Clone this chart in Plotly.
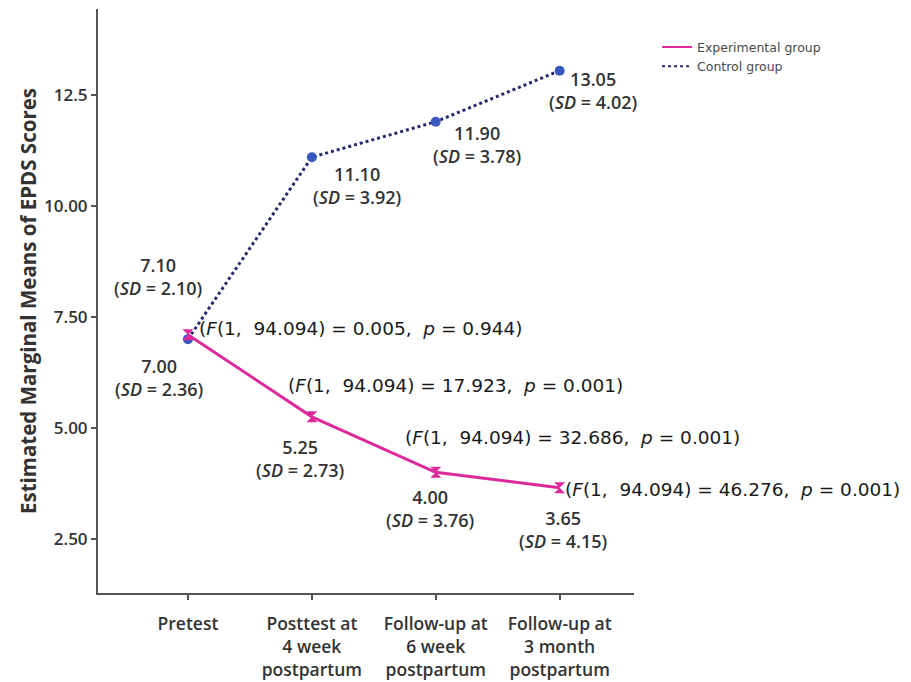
import plotly.graph_objects as go

categories = ["Pretest", "Posttest at<br>4 week<br>postpartum",
              "Follow-up at<br>6 week<br>postpartum", "Follow-up at<br>3 month<br>postpartum"]
experimental_mean = [7.10, 5.25, 4.00, 3.65]
experimental_sd = [2.10, 2.73, 3.76, 4.15]
control_mean = [7.00, 11.10, 11.90, 13.05]
control_sd = [2.36, 3.92, 3.78, 4.02]
f_values = ["0.005", "17.923", "32.686", "46.276"]
p_values = ["0.944", "0.001", "0.001", "0.001"]
df_text = "1,  94.094"
ytick_vals = [2.5, 5.0, 7.5, 10.0, 12.5]
ytick_text = ["2.50", "5.00", "7.50", "10.00", "12.5"]

EXP_COLOR = "#dc2a9c"
CTRL_LINE = "#262a6c"
CTRL_DOT = "#3a59c0"
LABEL_FONT = dict(family="Open Sans", size=18, color="#333333", weight=600)
STAT_FONT = dict(family="DejaVu Sans", size=18.5, color="#1a1a1a")

fig = go.Figure()
fig.add_trace(go.Scatter(x=categories, y=control_mean, mode="lines+markers",
                         line=dict(color=CTRL_LINE, width=3, dash="dot"),
                         marker=dict(color=CTRL_DOT, size=10), showlegend=False,
                         cliponaxis=False))
fig.add_trace(go.Scatter(x=categories, y=experimental_mean, mode="lines+markers",
                         line=dict(color=EXP_COLOR, width=3),
                         marker=dict(color=EXP_COLOR, size=11, symbol="hourglass"),
                         showlegend=False, cliponaxis=False))
# legend entries (lines only)
fig.add_trace(go.Scatter(x=[None], y=[None], mode="lines", name="Experimental group",
                         line=dict(color=EXP_COLOR, width=2)))
fig.add_trace(go.Scatter(x=[None], y=[None], mode="lines", name="Control group",
                         line=dict(color=CTRL_LINE, width=2, dash="dot")))

# label offsets in pixels (x, y)
ctrl_off = [(-29, -38), (45, -28), (41, -23), (33, -20)]
exp_off = [(-30, 58), (-12, -42), (-6, -36), (3, -42)]
stat_off = [(9, 6), (-26, 31), (-33, 35), (3, -2)]

for i, cat in enumerate(categories):
    fig.add_annotation(x=cat, y=control_mean[i], xref="x", yref="y",
                       text=f"{control_mean[i]:.2f}<br>(<i>SD</i> = {control_sd[i]:.2f})",
                       showarrow=False, xshift=ctrl_off[i][0], yshift=ctrl_off[i][1],
                       font=LABEL_FONT, align="center")
    fig.add_annotation(x=cat, y=experimental_mean[i], xref="x", yref="y",
                       text=f"{experimental_mean[i]:.2f}<br>(<i>SD</i> = {experimental_sd[i]:.2f})",
                       showarrow=False, xshift=exp_off[i][0], yshift=exp_off[i][1],
                       font=LABEL_FONT, align="center")
    fig.add_annotation(x=cat, y=experimental_mean[i], xref="x", yref="y",
                       text=f"(<i>F</i>({df_text}) = {f_values[i]},  <i>p</i> = {p_values[i]})",
                       showarrow=False, xanchor="left", xshift=stat_off[i][0],
                       yshift=stat_off[i][1], font=STAT_FONT)

fig.update_layout(
    width=911, height=682,
    margin=dict(l=90, r=285, t=1, b=97, autoexpand=False),
    paper_bgcolor="white", plot_bgcolor="white",
    legend=dict(x=1.043, y=0.96, xanchor="left", yanchor="top",
                font=dict(family="DejaVu Sans", size=12.5, color="#4a4a4a"),
                tracegroupgap=0, itemwidth=30, bgcolor="rgba(0,0,0,0)"),
)
fig.update_xaxes(range=[-0.726, 3.6], showgrid=False, zeroline=False, automargin=False,
                 showline=True, linecolor="#555555", linewidth=2,
                 ticks="outside", ticklen=5, tickcolor="#555555", tickwidth=2,
                 ticklabelstandoff=9,
                 tickfont=dict(family="Open Sans", size=17.5, color="#333333", weight=600))
fig.update_yaxes(range=[1.28, 14.44], showgrid=False, zeroline=False, automargin=False,
                 showline=True, linecolor="#555555", linewidth=2,
                 tickvals=ytick_vals, ticktext=ytick_text,
                 ticks="outside", ticklen=5, tickcolor="#555555", tickwidth=2,
                 tickfont=dict(family="Open Sans", size=17, color="#333333", weight=600),
                 title=dict(text="Estimated Marginal Means of EPDS Scores",
                            font=dict(family="Open Sans", size=20.5, color="#333333", weight=700),
                            standoff=2))

fig.write_html("out.html")
